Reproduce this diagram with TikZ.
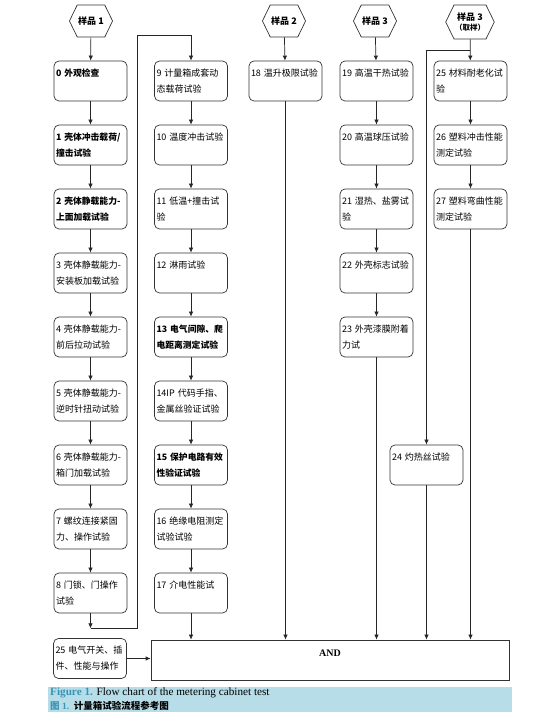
\documentclass[tikz,border=0pt]{standalone}
\usepackage{fontspec}
\setmainfont{Liberation Serif}
\newfontfamily\cjk{Noto Sans CJK SC}
\usetikzlibrary{arrows.meta,positioning,shapes.symbols}
\definecolor{capBand}{HTML}{B7DDE8}
\definecolor{capBlue}{HTML}{3A95B5}

\begin{document}
\begin{tikzpicture}[x=1pt, y=1pt,
     node distance=23.3pt,
     tbox/.style={draw=black!80, line width=0.7pt, rounded corners=5pt, minimum width=73pt,
                  minimum height=40pt, text width=69pt, inner sep=2pt, align=left,
                  font=\cjk\fontsize{9}{16}\selectfont},
     tboxb/.style={tbox, font=\cjk\bfseries\fontsize{8.8}{16}\selectfont},
     hexa/.style={draw=black!80, line width=0.7pt, shape=signal, signal to=west and east,
                  signal pointer angle=128, minimum width=42pt, minimum height=32pt,
                  inner sep=1pt, align=center, font=\cjk\bfseries\fontsize{9}{12}\selectfont},
     andbox/.style={draw=black!80, line width=0.7pt, minimum width=358pt, minimum height=40pt,
                  align=center, font=\bfseries\fontsize{10}{14}\selectfont},
     captxt/.style={anchor=west, inner sep=0pt, font=\fontsize{11.2}{12}\selectfont},
     arr/.style={-{Latex[length=5pt,width=4.5pt]}, line width=0.7pt, draw=black!85}]
     \useasboundingbox (0,0) rectangle (535,727);
     \node[hexa] (h1) at (91,706) {样品 1};
     \node[hexa] (h2) at (284,706) {样品 2};
     \node[hexa] (h3) at (375,706) {样品 3};
     \node[hexa, minimum height=34pt] (h4) at (470,705) {样品 3\\[-2pt]{\fontsize{7.5}{9}\selectfont （取样）}};
     % sample 1
     \node[tboxb] (b0) at (90.5,646) {0~外观检查\\\mbox{}};
     \node[tboxb, below=of b0] (b1) {1~壳体冲击载荷/\\撞击试验};
     \node[tboxb, below=of b1] (b2) {2~壳体静载能力-\\上面加载试验};
     \node[tbox, below=of b2] (b3) {3~壳体静载能力-\\安装板加载试验};
     \node[tbox, below=of b3] (b4) {4~壳体静载能力-\\前后拉动试验};
     \node[tbox, below=of b4] (b5) {5~壳体静载能力-\\逆时针扭动试验};
     \node[tbox, below=of b5] (b6) {6~壳体静载能力-\\箱门加载试验};
     \node[tbox, below=of b6] (b7) {7~螺纹连接紧固\\力、操作试验};
     \node[tbox, below=of b7] (b8) {8~门锁、门操作\\试验};
     \node[tbox] (b9) at (191,646) {9~计量箱成套动\\态载荷试验};
     \node[tbox, below=of b9] (b10) {10~温度冲击试验\\\mbox{}};
     \node[tbox, below=of b10] (b11) {11~低温+撞击试\\验};
     \node[tbox, below=of b11] (b12) {12~淋雨试验\\\mbox{}};
     \node[tboxb, below=of b12] (b13) {13~电气间隙、爬\\电距离测定试验};
     \node[tbox, below=of b13] (b14) {14IP~代码手指、\\金属丝验证试验};
     \node[tboxb, below=of b14] (b15) {15~保护电路有效\\性验证试验};
     \node[tbox, below=of b15] (b16) {16~绝缘电阻测定\\试验试验};
     \node[tbox, below=of b16] (b17) {17~介电性能试\\\mbox{}};
     % samples 2 and 3
     \node[tbox] (b18) at (285.5,646) {18~温升极限试验\\\mbox{}};
     \node[tbox] (b19) at (376.5,646) {19~高温干热试验\\\mbox{}};
     \node[tbox, below=of b19] (b20) {20~高温球压试验\\\mbox{}};
     \node[tbox, below=of b20] (b21) {21~湿热、盐雾试\\验};
     \node[tbox, below=of b21] (b22) {22~外壳标志试验\\\mbox{}};
     \node[tbox, below=of b22] (b23) {23~外壳漆膜附着\\力试};
     \node[tbox] (b24) at (426.5,262) {24~灼热丝试验\\\mbox{}};
     \node[tbox] (b25) at (470.5,646) {25~材料耐老化试\\验};
     \node[tbox, below=of b25] (b26) {26~塑料冲击性能\\测定试验};
     \node[tbox, below=of b26] (b27) {27~塑料弯曲性能\\测定试验};
     \node[tbox] (b25e) at (90,68.5) {25~电气开关、插\\件、性能与操作};
     \node[andbox] (and) at (330,67) {AND\\\mbox{}};
     % arrows
     \draw[arr] (h1) -- (b0); \draw[arr] (b0) -- (b1); \draw[arr] (b1) -- (b2); \draw[arr] (b2) -- (b3);
     \draw[arr] (b3) -- (b4); \draw[arr] (b4) -- (b5); \draw[arr] (b5) -- (b6); \draw[arr] (b6) -- (b7);
     \draw[arr] (b7) -- (b8);
     \coordinate (j1) at ([yshift=-15pt]b8.south);
     \coordinate (t1) at (137,692);
     \draw[arr] (b8) -- (j1);
     \draw[arr] (j1) -| (t1) -| (b9.north);
     \draw[arr] (b9) -- (b10); \draw[arr] (b10) -- (b11); \draw[arr] (b11) -- (b12); \draw[arr] (b12) -- (b13);
     \draw[arr] (b13) -- (b14); \draw[arr] (b14) -- (b15); \draw[arr] (b15) -- (b16); \draw[arr] (b16) -- (b17);
     \draw[arr] (h2) -- (b18);
     \draw[arr] (h3) -- (b19); \draw[arr] (b19) -- (b20); \draw[arr] (b20) -- (b21); \draw[arr] (b21) -- (b22);
     \draw[arr] (b22) -- (b23);
     \coordinate (j5) at ([yshift=-11pt]h4.south);
     \draw[arr] (h4) -- (b25); \draw[arr] (b25) -- (b26); \draw[arr] (b26) -- (b27);
     \draw[arr] (j5) -| (b24.north);
     \draw[arr] (b17) -- (b17 |- and.north);
     \draw[arr] (b18) -- (b18 |- and.north);
     \draw[arr] (b23) -- (b23 |- and.north);
     \draw[arr] (b24) -- (b24 |- and.north);
     \draw[arr] (b27) -- (b27 |- and.north);
     \draw[arr] (b25e) -- (b25e -| and.west);
     % caption
     \node[fill=capBand, minimum width=464pt, minimum height=25pt, inner sep=0pt, anchor=south west] (band) at (48,15) {};
     \node[captxt] (cap1) at (50,34) {\textcolor{capBlue}{\textbf{Figure 1.}} Flow chart of the metering cabinet test};
     \node[captxt, font=\fontsize{9.5}{12}\selectfont] (cap2) at (50,21) {\textcolor{capBlue}{{\cjk\bfseries 图} \textbf{1.}}\ \ {\cjk\bfseries 计量箱试验流程参考图}};
  \end{tikzpicture}
\end{document}
